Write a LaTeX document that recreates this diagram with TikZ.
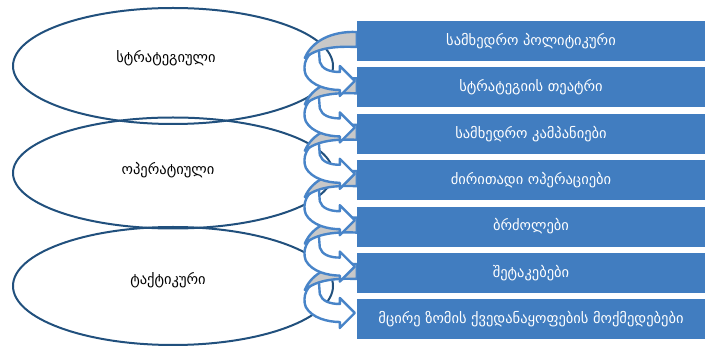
\documentclass[tikz,border=0pt]{standalone}
\usepackage{fontspec}
\setmainfont{DejaVu Sans}
\usetikzlibrary{shapes.geometric}
\pgfdeclarelayer{back}
\pgfsetlayers{back,main}
\definecolor{boxblue}{RGB}{65,125,192}
\definecolor{bandblue}{RGB}{72,132,200}
\definecolor{ringblue}{RGB}{33,80,125}
\definecolor{backgrey}{RGB}{200,200,200}
\tikzset{level/.style = {shape = ellipse,
                         draw = ringblue,
                         line width = 2pt,
                         minimum width = 320pt,
                         minimum height = 116pt,
                         inner sep = 0pt},
         leveltext/.style = {font = \fontsize{14.5}{16}\selectfont,
                             text = black},
         item/.style = {shape = rectangle,
                        fill = boxblue,
                        minimum width = 348pt,
                        minimum height = 40pt,
                        inner sep = 0pt,
                        text = white,
                        font = \fontsize{14.5}{17}\selectfont},
         band/.style = {draw = bandblue,
                        line width = 2.4pt,
                        line join = round}}

\begin{document}
\begin{tikzpicture}[x=1pt,y=-1pt]
		\useasboundingbox (0,0) rectangle (705,347);
		\begin{pgfonlayer}{back}
		\node[level] (e1) at (173,66) {};
		\node[level, minimum height = 111pt] (e2) at (173,173) {};
		\node[level, minimum height = 118pt] (e3) at (173,286) {};
		\end{pgfonlayer}
		\node[leveltext] (t1) at (166,58) {სტრატეგიული};
		\node[leveltext] (t2) at (168,170) {ოპერატიული};
		\node[leveltext] (t3) at (168,280) {ტაქტიკური};
		\node[item] (b1) at (531,41) {სამხედრო პოლიტიკური};
		\node[item] (b2) at (531,87.4) {სტრატეგიის თეატრი};
		\node[item] (b3) at (531,133.8) {სამხედრო კამპანიები};
		\node[item] (b4) at (531,180.2) {ძირითადი ოპერაციები};
		\node[item] (b5) at (531,226.6) {ბრძოლები};
		\node[item] (b6) at (531,273) {შეტაკებები};
		\node[item] (b7) at (531,319.4) {მცირე ზომის ქვედანაყოფების მოქმედებები};
		\begin{pgfonlayer}{back}
		\foreach \i in {6,5,...,1}{
			\begin{scope}[shift = {(b\i.west)}]
				\path[band, fill = white] (-38,8) .. controls (-50,11) and (-55,24) .. (-51,34)
					.. controls (-45,45) and (-29,49) .. (-17,49) -- (-17,55) -- (-2,40) -- (-17,25)
					-- (-17,31) .. controls (-27,31) and (-35,28) .. (-37,21) -- cycle;
				\path[band, fill = backgrey] (0,-9) .. controls (-25,-10) and (-45,0) .. (-52,17)
					.. controls (-40,7) and (-22,5) .. (0,6) -- cycle;
			\end{scope}
		}
		\end{pgfonlayer}
	\end{tikzpicture}
\end{document}
